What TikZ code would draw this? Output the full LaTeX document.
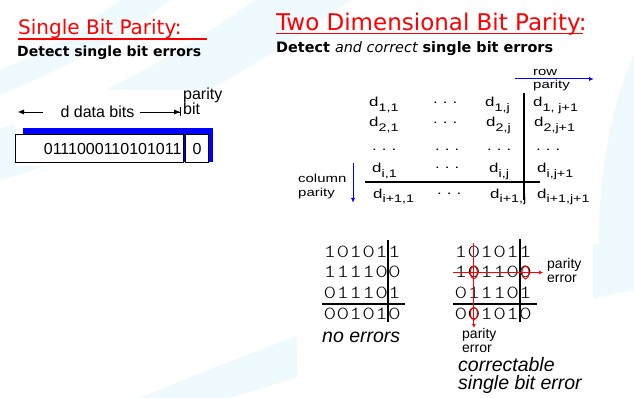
\documentclass[tikz,border=0pt]{standalone}
\usepackage{fontspec}
\setmainfont{Liberation Sans}
\newfontfamily\comicfont{DejaVu Sans}
\newfontfamily\wideface[FakeStretch=1.3]{Liberation Sans}
\newfontfamily\courfont[FakeStretch=1.3]{lmmonolt10-regular.otf}
\usetikzlibrary{arrows.meta}
\definecolor{TitleRed}{rgb}{1,0,0}
\definecolor{ParityBlue}{rgb}{0,0,1}
\definecolor{SwooshCyan}{RGB}{238,250,254}
\newcommand{\fsz}[1]{\fontsize{#1}{#1}\selectfont}
\newcommand{\dij}[1]{d\raisebox{-4.5pt}{\fsz{11}#1}}
\newcommand{\dotrow}{.\hspace{5pt}.\hspace{5pt}.}
\tikzset{
  title/.style={font=\comicfont\fsz{20}, text=TitleRed, inner sep=0pt, anchor=base west},
  subtitle/.style={font=\comicfont\bfseries\fsz{14}, inner sep=0pt, anchor=base west},
  entry/.style={font=\wideface\fsz{13}, inner sep=0pt, anchor=base west},
  bit/.style={font=\courfont\fsz{18.5}, inner sep=0pt, anchor=base},
  lbl/.style={font=\fsz{14}, inner sep=0pt, anchor=base west},
  widelbl/.style={font=\wideface\fsz{11.5}, inner sep=0pt, anchor=base west},
  note/.style={font=\itshape\fsz{19.5}, inner sep=0pt, anchor=base west},
  rule/.style={line width=1.3pt},
  errmark/.style={TitleRed, line width=0.9pt},
}

\begin{document}
\begin{tikzpicture}[x=1pt, y=-1pt, font=\fsz{16}]
\useasboundingbox (0,0) rectangle (634,398);

% fondo con curvas
\fill[white] (0,0) rectangle (634,398);
\fill[SwooshCyan] (0,180) .. controls (110,150) and (240,80) .. (350,0)
    -- (255,0) .. controls (170,60) and (80,110) .. (0,128) -- cycle;
\fill[SwooshCyan] (0,95) .. controls (60,70) and (120,40) .. (170,0)
    -- (120,0) .. controls (80,30) and (40,55) .. (0,70) -- cycle;
\fill[SwooshCyan] (140,398) .. controls (300,330) and (480,270) .. (634,235)
    -- (634,290) .. controls (480,320) and (320,370) .. (230,398) -- cycle;
\fill[SwooshCyan] (634,55) .. controls (605,120) and (595,200) .. (600,290)
    -- (634,290) -- cycle;
\fill[white] (15,90) rectangle (222,166);
\fill[white] (297,70) rectangle (593,398);

% --- titulos ---
\node[title] (t1) at (18,34.3) {Single Bit Parity:};
\draw[TitleRed, line width=1.6pt] (18,39) -- (207,39);
\node[subtitle] (s1) at (17,57) {Detect single bit errors};

\node[title, font=\comicfont\fsz{23}] (t2) at (276,30.7) {Two Dimensional Bit Parity:};
\draw[TitleRed, line width=1.6pt] (276,33.5) -- (583,33.5);
\node[subtitle, font=\comicfont\bfseries\fsz{14.4}] (s2) at (276,53)
    {Detect {\mdseries\itshape and correct} single bit errors};

% --- paridad de un bit ---
\node[inner sep=0pt] (dbits) at (97.5,112) {d data bits};
\coordinate (dl) at (18,112);
\coordinate (dr) at (181,112);
\draw[{Latex[length=6pt,width=5pt]}-] (dl) -- ([xshift=-17pt]dbits.west);
\draw[-{Latex[length=6pt,width=5pt]Bar[width=9pt,line width=1pt]}] ([xshift=5pt]dbits.east) -- (dr);
\node[inner sep=0pt, anchor=base west] (pw1) at (183,100) {parity};
\node[inner sep=0pt, anchor=base west] (pw2) at (183,115) {bit};

\fill[ParityBlue] (23,128) rectangle (213,162);
\node[draw, line width=1pt, fill=white, text width=164pt, align=right, minimum height=28pt,
      inner xsep=2pt, inner ysep=0pt, anchor=north west] (data) at (15,134) {0111000110101011};
\node[draw, line width=1pt, fill=white, minimum width=23pt, minimum height=28pt,
      inner sep=0pt, anchor=north west] (pcell) at (185,134) {0};

% --- paridad bidimensional ---
\node[widelbl] (rowa) at (533,76) {row};
\node[widelbl] (rowb) at (533,89) {parity};
\coordinate (rp0) at (515,79);
\coordinate (rp1) at (594,79);
\draw[ParityBlue, line width=1pt, -{Latex[length=5pt,width=4pt]}] (rp0) -- (rp1);

\node[widelbl] (cola) at (298,182.7) {column};
\node[widelbl] (colb) at (298,196.7) {parity};
\coordinate (cp0) at (353,163);
\coordinate (cp1) at (353,203);
\draw[ParityBlue, line width=1pt, -{Latex[length=5pt,width=4pt]}] (cp0) -- (cp1);

\node[entry] (m11) at (369,106.7) {\dij{1,1}};
\node[entry] (m12) at (433,104) {\dotrow};
\node[entry] (m13) at (485,106.7) {\dij{1,j}};
\node[entry] (m14) at (533,106.7) {\dij{1, j+1}};

\node[entry] (m21) at (369,126.7) {\dij{2,1}};
\node[entry] (m22) at (433,124) {\dotrow};
\node[entry] (m23) at (486,126.7) {\dij{2,j}};
\node[entry] (m24) at (534,126.7) {\dij{2,j+1}};

\node[entry] (m31) at (372,151) {\dotrow};
\node[entry] (m32) at (435,151) {\dotrow};
\node[entry] (m33) at (487,151) {\dotrow};
\node[entry] (m34) at (536,151) {\dotrow};

\node[entry] (m41) at (372,173) {\dij{i,1}};
\node[entry] (m42) at (435,168) {\dotrow};
\node[entry] (m43) at (489,173) {\dij{i,j}};
\node[entry] (m44) at (537,173) {\dij{i,j+1}};

\node[entry] (m51) at (373,198) {\dij{i+1,1}};
\node[entry] (m52) at (437,194) {\dotrow};
\node[entry] (m53) at (490,198) {\dij{i+1,j}};
\node[entry] (m54) at (537,198) {\dij{i+1,j+1}};

\draw[rule] (524,93) -- (524,200);
\draw[rule] (365,182) -- (540,182);

% --- ejemplo sin errores ---
\foreach \bits [count=\r] in {{1,0,1,0,1,1},{1,1,1,1,0,0},{0,1,1,1,0,1},{0,0,1,0,1,0}}
  \foreach \b [count=\c] in \bits
    \node[bit] (a\r\c) at ({330+12.9*(\c-1)},{236.3+20.7*\r}) {\b};
\draw[rule] (388,240) -- (388,322);
\draw[rule] (322,304) -- (405,304);
\node[note] (ok) at (322,342) {no errors};

% --- ejemplo con un bit erroneo ---
\foreach \bits [count=\r] in {{1,0,1,0,1,1},{1,0,1,1,0,0},{0,1,1,1,0,1},{0,0,1,0,1,0}}
  \foreach \b [count=\c] in \bits
    \node[bit] (b\r\c) at ({461+12.9*(\c-1)},{236.3+20.7*\r}) {\b};
\draw[rule] (520,239) -- (520,322);
\draw[rule] (453,304) -- (537,304);

\coordinate (ev0) at (b12 |- 0,243);
\coordinate (ev1) at (b12 |- 0,328);
\coordinate (eh0) at (453,272.5);
\coordinate (eh1) at (543,272.5);
\draw[errmark, -{Latex[length=4pt,width=4pt]}] (ev0) -- (ev1);
\draw[errmark, -{Latex[length=4pt,width=4pt]}] (eh0) -- (eh1);
\draw[errmark] (b12 |- 0,272.5) ellipse (3.5 and 6.5);
\draw[errmark] (b26 |- 0,272.5) ellipse (3.5 and 6.5);
\draw[errmark] (b42 |- 0,313.5) ellipse (3.5 and 6.5);

\node[lbl] (rowerr1) at (547,268) {parity};
\node[lbl] (rowerr2) at (547,282) {error};
\node[lbl] (colerr1) at (462,338) {parity};
\node[lbl] (colerr2) at (462,352) {error};

\node[note] (fix1) at (458,371) {correctable};
\node[note] (fix2) at (458,389) {single bit error};

\end{tikzpicture}
\end{document}
